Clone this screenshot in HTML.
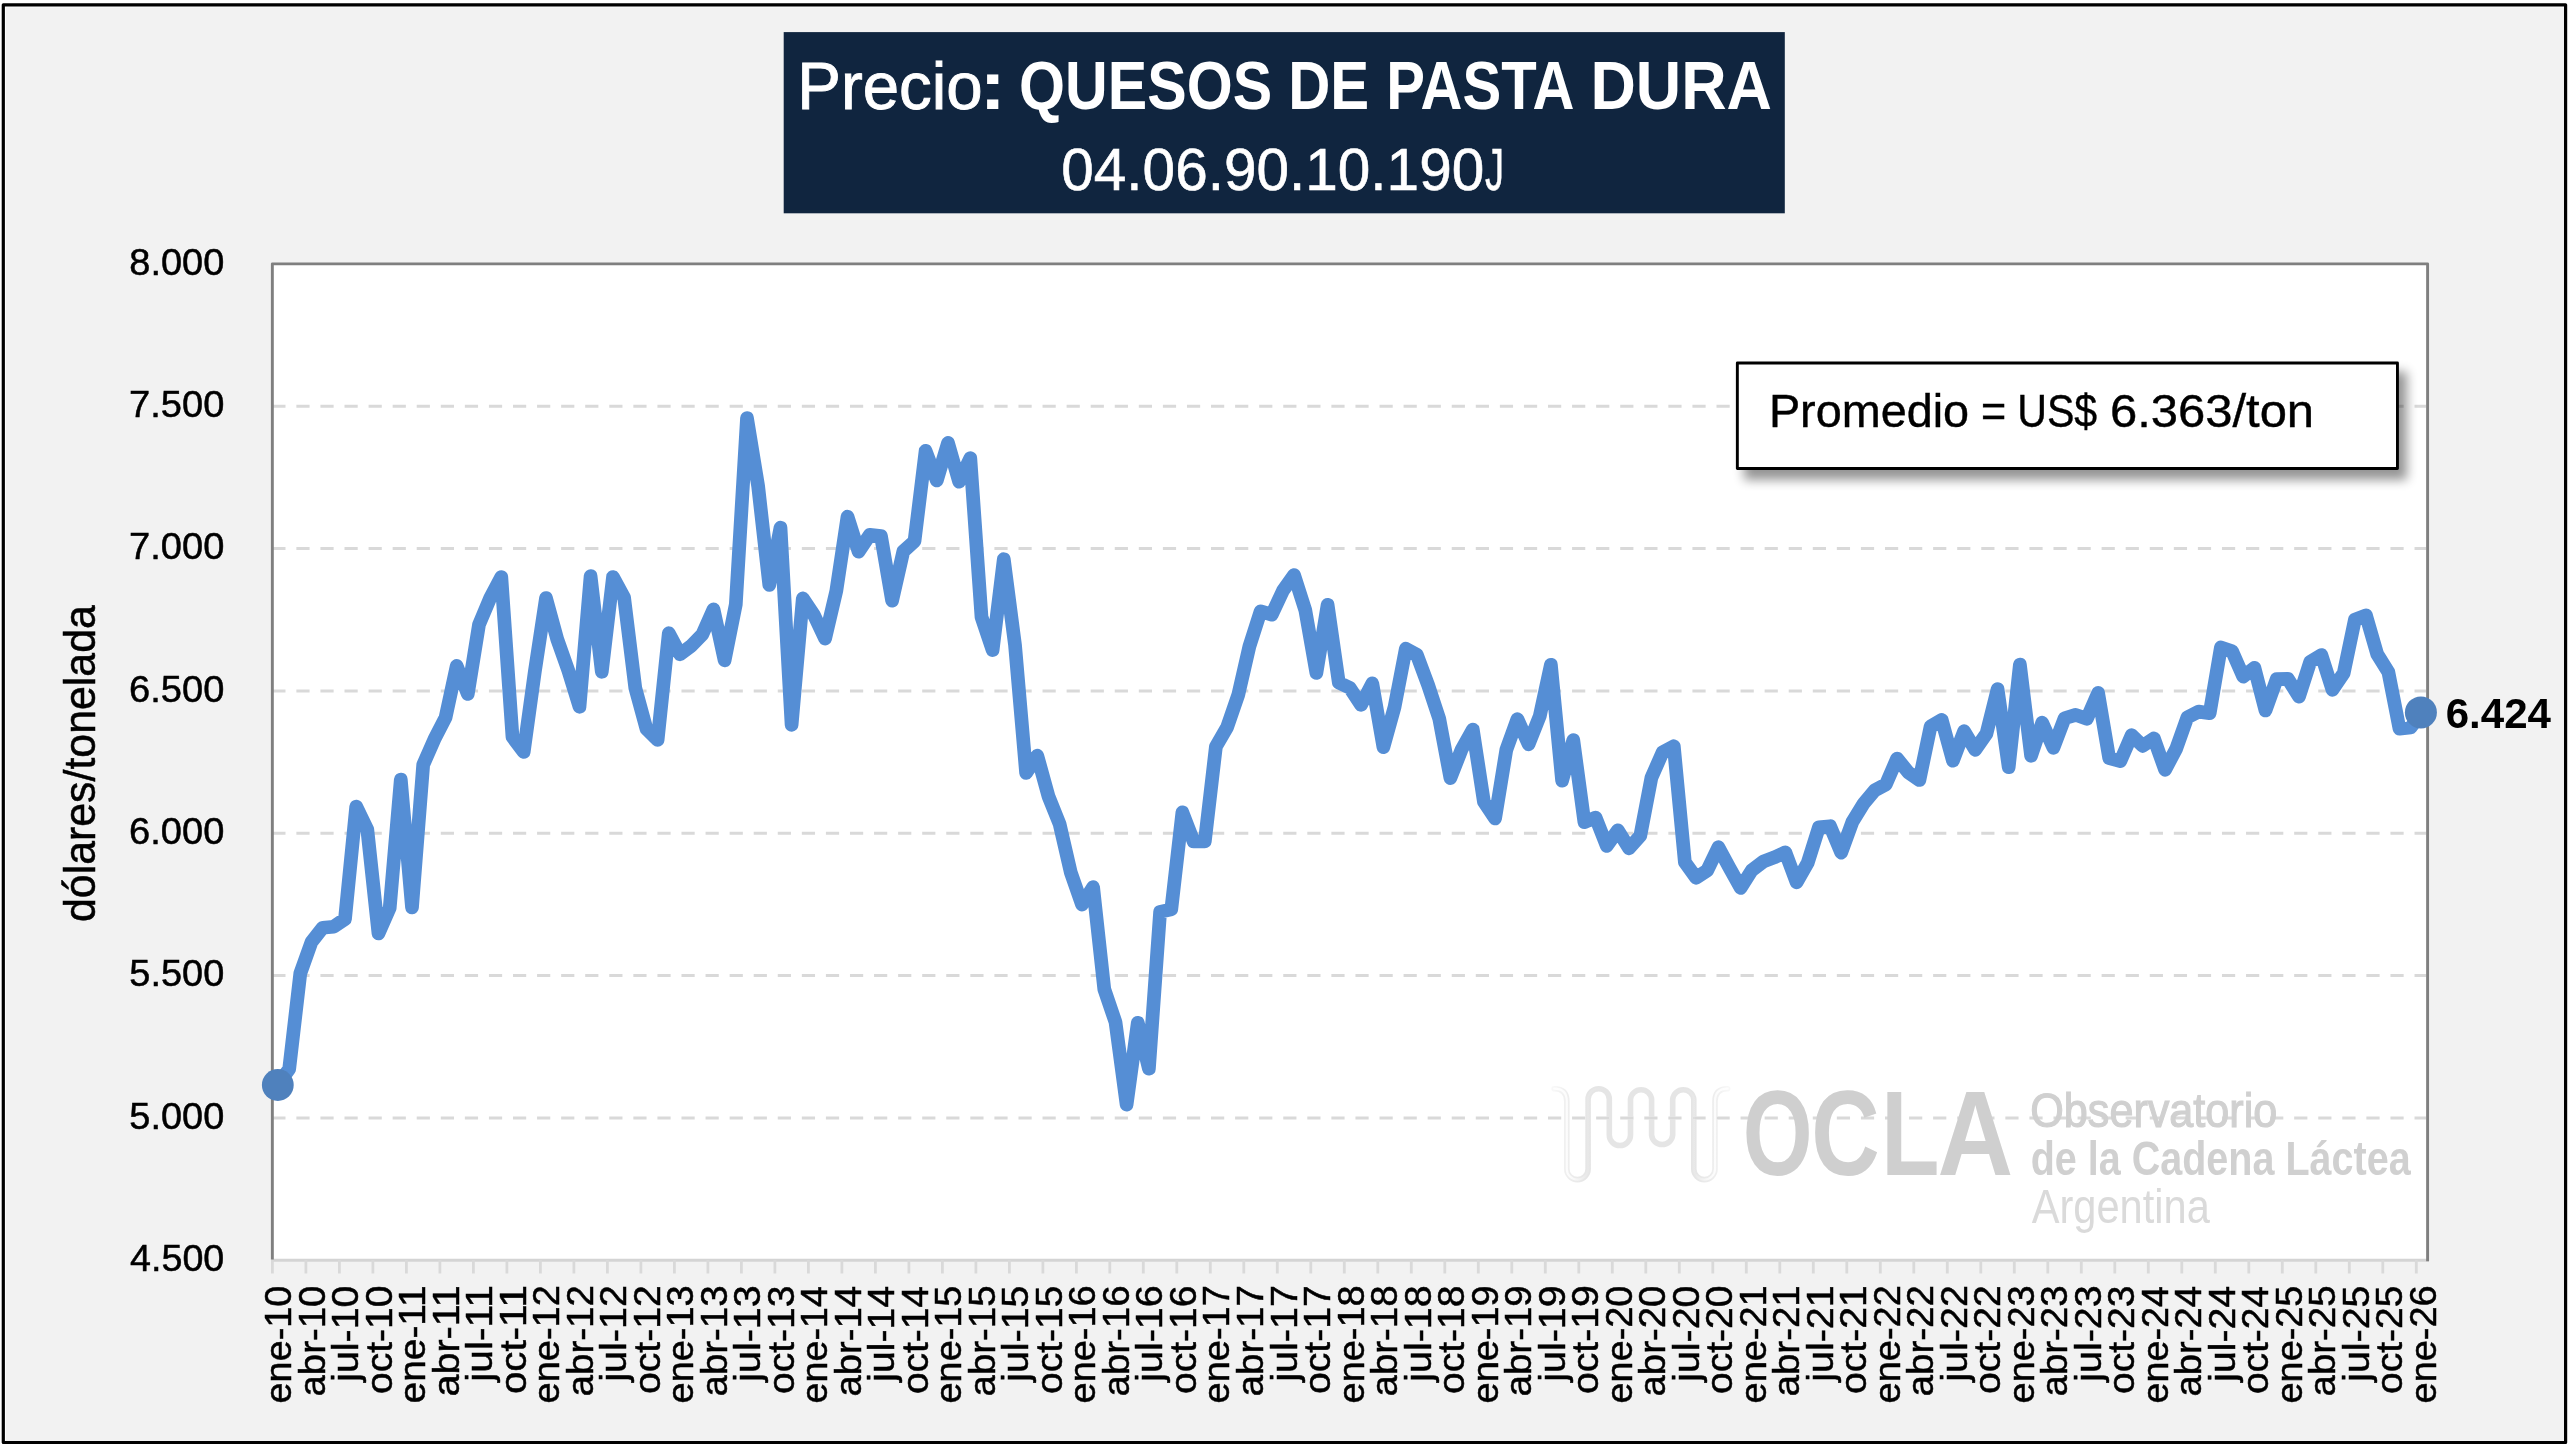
<!DOCTYPE html>
<html lang="es"><head><meta charset="utf-8"><title>Precio: QUESOS DE PASTA DURA</title>
<style>html,body{margin:0;padding:0;background:#fff;}body{width:2575px;height:1448px;overflow:hidden;}svg{display:block;}text{font-family:"Liberation Sans", sans-serif;}</style></head><body>
<svg width="2575" height="1448" viewBox="0 0 2575 1448">
<defs><filter id="sh" x="-10%" y="-30%" width="125%" height="180%"><feGaussianBlur in="SourceAlpha" stdDeviation="5.5"/><feOffset dx="7.5" dy="9.5"/><feComponentTransfer><feFuncA type="linear" slope="0.42"/></feComponentTransfer></filter><linearGradient id="sq" gradientUnits="userSpaceOnUse" x1="1553" x2="1729" y1="0" y2="0"><stop offset="0" stop-color="#f8f8f8"/><stop offset="0.08" stop-color="#eeeeee"/><stop offset="0.2" stop-color="#e5e5e5"/><stop offset="0.8" stop-color="#e5e5e5"/><stop offset="0.92" stop-color="#eeeeee"/><stop offset="1" stop-color="#f8f8f8"/></linearGradient><linearGradient id="sqc" gradientUnits="userSpaceOnUse" x1="1553" x2="1729" y1="0" y2="0"><stop offset="0" stop-color="#fff" stop-opacity="0.9"/><stop offset="0.1" stop-color="#fff" stop-opacity="0.8"/><stop offset="0.19" stop-color="#fff" stop-opacity="0.12"/><stop offset="0.3" stop-color="#fff" stop-opacity="0"/><stop offset="0.7" stop-color="#fff" stop-opacity="0"/><stop offset="0.81" stop-color="#fff" stop-opacity="0.12"/><stop offset="0.9" stop-color="#fff" stop-opacity="0.8"/><stop offset="1" stop-color="#fff" stop-opacity="0.9"/></linearGradient></defs>
<rect x="0" y="0" width="2575" height="1448" fill="#ffffff"/>
<rect x="5.8" y="7.4" width="2559.2" height="1434.6" fill="#f2f2f2"/>
<rect x="3.3" y="4.8" width="2562.3" height="1437.7" fill="none" stroke="#000000" stroke-width="3.2" stroke-linejoin="round"/>
<rect x="783.7" y="32.1" width="1001.1" height="181.2" fill="#10253f"/>
<rect x="272.35" y="263.85" width="2155.25" height="996.3" fill="#ffffff"/>
<line x1="272.3" x2="2426" y1="406.2" y2="406.2" stroke="#d9d9d9" stroke-width="3" stroke-dasharray="13.2 10.87"/>
<line x1="272.3" x2="2426" y1="548.5" y2="548.5" stroke="#d9d9d9" stroke-width="3" stroke-dasharray="13.2 10.87"/>
<line x1="272.3" x2="2426" y1="690.9" y2="690.9" stroke="#d9d9d9" stroke-width="3" stroke-dasharray="13.2 10.87"/>
<line x1="272.3" x2="2426" y1="833.2" y2="833.2" stroke="#d9d9d9" stroke-width="3" stroke-dasharray="13.2 10.87"/>
<line x1="272.3" x2="2426" y1="975.5" y2="975.5" stroke="#d9d9d9" stroke-width="3" stroke-dasharray="13.2 10.87"/>
<line x1="272.3" x2="2426" y1="1117.9" y2="1117.9" stroke="#d9d9d9" stroke-width="3" stroke-dasharray="13.2 10.87"/>
<line x1="271.4" x2="2428.9" y1="1260.2" y2="1260.2" stroke="#d4d4d4" stroke-width="2.9"/>
<path d="M272.4 1260V1273.4M305.9 1260V1273.4M339.4 1260V1273.4M372.9 1260V1273.4M406.4 1260V1273.4M439.9 1260V1273.4M473.4 1260V1273.4M506.9 1260V1273.4M540.4 1260V1273.4M573.9 1260V1273.4M607.4 1260V1273.4M640.9 1260V1273.4M674.4 1260V1273.4M707.9 1260V1273.4M741.4 1260V1273.4M774.9 1260V1273.4M808.4 1260V1273.4M841.9 1260V1273.4M875.4 1260V1273.4M908.9 1260V1273.4M942.4 1260V1273.4M975.9 1260V1273.4M1009.4 1260V1273.4M1042.9 1260V1273.4M1076.4 1260V1273.4M1109.8 1260V1273.4M1143.3 1260V1273.4M1176.8 1260V1273.4M1210.3 1260V1273.4M1243.8 1260V1273.4M1277.3 1260V1273.4M1310.8 1260V1273.4M1344.3 1260V1273.4M1377.8 1260V1273.4M1411.3 1260V1273.4M1444.8 1260V1273.4M1478.3 1260V1273.4M1511.8 1260V1273.4M1545.3 1260V1273.4M1578.8 1260V1273.4M1612.3 1260V1273.4M1645.8 1260V1273.4M1679.3 1260V1273.4M1712.8 1260V1273.4M1746.3 1260V1273.4M1779.8 1260V1273.4M1813.3 1260V1273.4M1846.8 1260V1273.4M1880.3 1260V1273.4M1913.8 1260V1273.4M1947.3 1260V1273.4M1980.8 1260V1273.4M2014.3 1260V1273.4M2047.8 1260V1273.4M2081.3 1260V1273.4M2114.8 1260V1273.4M2148.3 1260V1273.4M2181.8 1260V1273.4M2215.3 1260V1273.4M2248.8 1260V1273.4M2282.3 1260V1273.4M2315.8 1260V1273.4M2349.3 1260V1273.4M2382.8 1260V1273.4M2416.3 1260V1273.4" stroke="#d9d9d9" stroke-width="2.8" fill="none"/>
<path d="M272.35 1259.4V263.85H2427.6V1261.2" fill="none" stroke="#7f7f7f" stroke-width="2.9" stroke-linejoin="round"/>
<g id="logo">
<path d="M1554.2 1088.7 Q1566.8 1088.7 1566.8 1101.3 V1169.0 A10.6 10.6 0 0 0 1588.1 1169.0 V1099.3 A10.6 10.6 0 0 1 1609.3 1099.3 V1135.0 A10.6 10.6 0 0 0 1630.5 1135.0 V1099.3 A10.6 10.6 0 0 1 1651.6 1099.3 V1135.0 A10.6 10.6 0 0 0 1672.7 1135.0 V1099.3 A10.6 10.6 0 0 1 1693.8 1099.3 V1169.0 A10.6 10.6 0 0 0 1715.0 1169.0 V1101.3 Q1715.0 1088.7 1727.6 1088.7" fill="none" stroke="url(#sq)" stroke-width="5.6" stroke-linecap="round" stroke-linejoin="round" style="mix-blend-mode:darken"/>
<path d="M1554.2 1088.7 Q1566.8 1088.7 1566.8 1101.3 V1169.0 A10.6 10.6 0 0 0 1588.1 1169.0 V1099.3 A10.6 10.6 0 0 1 1609.3 1099.3 V1135.0 A10.6 10.6 0 0 0 1630.5 1135.0 V1099.3 A10.6 10.6 0 0 1 1651.6 1099.3 V1135.0 A10.6 10.6 0 0 0 1672.7 1135.0 V1099.3 A10.6 10.6 0 0 1 1693.8 1099.3 V1169.0 A10.6 10.6 0 0 0 1715.0 1169.0 V1101.3 Q1715.0 1088.7 1727.6 1088.7" fill="none" stroke="url(#sqc)" stroke-width="2.2" stroke-linecap="round" stroke-linejoin="round"/>
<text y="1175.20" fill="#cfcfcf" xml:space="preserve"><tspan x="1742.65" font-size="120.00" font-weight="700" textLength="69.87" lengthAdjust="spacingAndGlyphs">O</tspan><tspan x="1811.15" font-size="120.00" font-weight="700" textLength="68.44" lengthAdjust="spacingAndGlyphs">C</tspan><tspan x="1881.01" font-size="120.00" font-weight="700" textLength="58.52" lengthAdjust="spacingAndGlyphs">L</tspan><tspan x="1937.38" font-size="120.00" font-weight="700" textLength="75.68" lengthAdjust="spacingAndGlyphs">A</tspan></text>
<text x="2030.28" y="1126.50" font-size="48.00" fill="#d0d0d0" textLength="247.04" lengthAdjust="spacingAndGlyphs" xml:space="preserve" stroke="#d0d0d0" stroke-width="1.2">Observatorio</text>
<text x="2030.65" y="1174.60" font-size="48.00" font-weight="700" fill="#d0d0d0" textLength="380.06" lengthAdjust="spacingAndGlyphs" xml:space="preserve">de la Cadena Láctea</text>
<text x="2031.69" y="1222.50" font-size="47.50" fill="#dadada" textLength="178.19" lengthAdjust="spacingAndGlyphs" xml:space="preserve">Argentina</text>
</g>
<polyline points="278.0,1084.6 289.2,1068.9 300.3,973.4 311.5,942.0 322.7,927.7 333.8,926.7 345.0,919.0 356.2,806.6 367.3,829.6 378.5,933.5 389.7,908.1 400.8,779.5 412.0,907.4 423.2,764.8 434.3,739.4 445.5,717.7 456.7,665.9 467.8,694.0 479.0,624.6 490.2,598.0 501.3,577.0 512.5,737.0 523.7,752.0 534.8,671.7 546.0,598.0 557.2,639.1 568.3,670.5 579.5,706.8 590.6,576.2 601.8,671.8 613.0,577.0 624.1,597.5 635.3,688.0 646.5,729.0 657.6,740.0 668.8,633.2 680.0,654.3 691.1,646.0 702.3,634.5 713.5,609.3 724.6,660.3 735.8,604.3 747.0,418.1 758.1,485.8 769.3,584.9 780.5,527.6 791.6,724.9 802.8,598.4 814.0,615.1 825.1,638.6 836.3,591.0 847.5,516.7 858.6,551.6 869.8,534.9 881.0,536.1 892.1,600.7 903.3,551.4 914.5,541.2 925.6,450.9 936.8,480.5 948.0,442.9 959.1,481.7 970.3,458.2 981.5,617.0 992.6,650.1 1003.8,559.2 1015.0,644.8 1026.1,772.9 1037.3,755.7 1048.5,796.4 1059.6,824.0 1070.8,872.5 1082.0,904.6 1093.1,887.1 1104.3,989.3 1115.5,1022.1 1126.6,1104.6 1137.8,1022.8 1148.9,1068.7 1160.1,911.9 1171.3,909.3 1182.4,812.4 1193.6,841.5 1204.8,841.5 1215.9,746.6 1227.1,727.3 1238.3,694.7 1249.4,646.4 1260.6,611.3 1271.8,614.7 1282.9,590.8 1294.1,575.0 1305.3,610.1 1316.4,673.0 1327.6,604.8 1338.8,682.6 1349.9,687.9 1361.1,704.9 1372.3,683.3 1383.4,747.2 1394.6,706.8 1405.8,648.7 1416.9,654.8 1428.1,685.0 1439.3,718.9 1450.4,778.1 1461.6,749.5 1472.8,729.5 1483.9,801.8 1495.1,818.5 1506.3,749.9 1517.4,719.1 1528.6,744.3 1539.8,716.0 1550.9,664.8 1562.1,780.6 1573.3,740.2 1584.4,822.2 1595.6,817.5 1606.8,845.9 1617.9,830.3 1629.1,848.3 1640.3,835.7 1651.4,777.7 1662.6,752.3 1673.8,746.2 1684.9,862.3 1696.1,877.8 1707.2,870.5 1718.4,847.2 1729.6,868.0 1740.7,887.9 1751.9,870.2 1763.1,861.7 1774.2,857.4 1785.4,852.3 1796.6,882.3 1807.7,862.9 1818.9,827.4 1830.1,826.2 1841.2,852.6 1852.4,821.8 1863.6,803.7 1874.7,790.4 1885.9,784.4 1897.1,758.5 1908.2,772.3 1919.4,780.0 1930.6,726.4 1941.7,719.8 1952.9,760.7 1964.1,731.2 1975.2,749.8 1986.4,733.8 1997.6,689.2 2008.7,767.2 2019.9,664.6 2031.1,755.8 2042.2,722.7 2053.4,747.8 2064.6,718.3 2075.7,714.9 2086.9,718.8 2098.1,692.9 2109.2,758.2 2120.4,761.1 2131.6,735.2 2142.7,745.9 2153.9,738.4 2165.1,769.8 2176.2,748.8 2187.4,717.3 2198.6,711.6 2209.7,713.2 2220.9,647.4 2232.1,651.2 2243.2,676.6 2254.4,667.8 2265.5,710.5 2276.7,679.1 2287.9,678.8 2299.0,696.7 2310.2,661.9 2321.4,655.0 2332.5,689.8 2343.7,673.1 2354.9,619.6 2366.0,615.3 2377.2,654.1 2388.4,672.2 2399.5,728.7 2410.7,727.5 2421.9,712.5" fill="none" stroke="#558ed5" stroke-width="13.7" stroke-linejoin="round" stroke-linecap="round"/>
<circle cx="277.8" cy="1085.0" r="15.9" fill="#4f81bd"/>
<circle cx="2420.9" cy="712.4" r="16.0" fill="#4f81bd"/>
<rect x="1735.9" y="361.6" width="663" height="108.3" fill="#000" filter="url(#sh)"/>
<rect x="1737.35" y="363.05" width="660.1" height="105.4" fill="#ffffff" stroke="#000000" stroke-width="2.9" stroke-linejoin="round"/>
<text y="427.10" fill="#000" xml:space="preserve" stroke="#000" stroke-width="0.4"><tspan x="1768.92" font-size="46.80" font-weight="400" textLength="200.23" lengthAdjust="spacingAndGlyphs">Promedio</tspan> <tspan x="1980.92" font-size="46.80" font-weight="400" textLength="25.20" lengthAdjust="spacingAndGlyphs">=</tspan> <tspan x="2017.21" font-size="46.80" font-weight="400" textLength="80.00" lengthAdjust="spacingAndGlyphs">US$</tspan> <tspan x="2109.91" font-size="46.80" font-weight="400" textLength="204.19" lengthAdjust="spacingAndGlyphs">6.363/ton</tspan></text>
<text y="109.20" fill="#fff" xml:space="preserve"><tspan x="797.33" font-size="67.00" font-weight="400" stroke="#fff" stroke-width="0.9" textLength="185.39" lengthAdjust="spacingAndGlyphs">Precio</tspan><tspan x="979.51" font-size="67.80" font-weight="700" textLength="26.36" lengthAdjust="spacingAndGlyphs">:</tspan> <tspan x="1019.00" font-size="67.80" font-weight="700" textLength="253.11" lengthAdjust="spacingAndGlyphs">QUESOS</tspan> <tspan x="1288.23" font-size="67.80" font-weight="700" textLength="80.93" lengthAdjust="spacingAndGlyphs">DE</tspan> <tspan x="1386.14" font-size="67.80" font-weight="700" textLength="188.21" lengthAdjust="spacingAndGlyphs">PASTA</tspan> <tspan x="1590.42" font-size="67.80" font-weight="700" textLength="181.58" lengthAdjust="spacingAndGlyphs">DURA</tspan></text>
<text y="190.20" fill="#fff" xml:space="preserve" stroke="#fff" stroke-width="0.6"><tspan x="1061.27" font-size="59.60" font-weight="400" textLength="422.97" lengthAdjust="spacingAndGlyphs">04.06.90.10.190</tspan><tspan x="1484.94" font-size="59.60" font-weight="400" textLength="18.98" lengthAdjust="spacingAndGlyphs">J</tspan></text>
<text x="130.02" y="1270.85" font-size="37.40" fill="#000" textLength="94.30" lengthAdjust="spacingAndGlyphs" xml:space="preserve" stroke="#000" stroke-width="0.5">4.500</text>
<text x="129.38" y="1128.51" font-size="37.40" fill="#000" textLength="94.95" lengthAdjust="spacingAndGlyphs" xml:space="preserve" stroke="#000" stroke-width="0.5">5.000</text>
<text x="129.38" y="986.17" font-size="37.40" fill="#000" textLength="94.95" lengthAdjust="spacingAndGlyphs" xml:space="preserve" stroke="#000" stroke-width="0.5">5.500</text>
<text x="128.99" y="843.84" font-size="37.40" fill="#000" textLength="95.35" lengthAdjust="spacingAndGlyphs" xml:space="preserve" stroke="#000" stroke-width="0.5">6.000</text>
<text x="128.99" y="701.50" font-size="37.40" fill="#000" textLength="95.35" lengthAdjust="spacingAndGlyphs" xml:space="preserve" stroke="#000" stroke-width="0.5">6.500</text>
<text x="128.99" y="559.17" font-size="37.40" fill="#000" textLength="95.35" lengthAdjust="spacingAndGlyphs" xml:space="preserve" stroke="#000" stroke-width="0.5">7.000</text>
<text x="128.99" y="416.83" font-size="37.40" fill="#000" textLength="95.35" lengthAdjust="spacingAndGlyphs" xml:space="preserve" stroke="#000" stroke-width="0.5">7.500</text>
<text x="129.25" y="274.50" font-size="37.40" fill="#000" textLength="95.08" lengthAdjust="spacingAndGlyphs" xml:space="preserve" stroke="#000" stroke-width="0.5">8.000</text>
<text transform="translate(94.9,920.2) rotate(-90)" x="-1.81" y="0" font-size="44.5" fill="#000" stroke="#000" stroke-width="0.5" textLength="316.85" lengthAdjust="spacingAndGlyphs">dólares/tonelada</text>
<text x="2445.73" y="728.00" font-size="43.00" font-weight="700" fill="#000" textLength="105.27" lengthAdjust="spacingAndGlyphs" xml:space="preserve">6.424</text>
<text transform="translate(291.1,1401.8) rotate(-90)" x="-1.64" y="0" font-size="37.4" fill="#000" stroke="#000" stroke-width="0.5" textLength="117.74" lengthAdjust="spacingAndGlyphs">ene-10</text>
<text transform="translate(324.6,1394.8) rotate(-90)" x="-1.67" y="0" font-size="37.4" fill="#000" stroke="#000" stroke-width="0.5" textLength="110.82" lengthAdjust="spacingAndGlyphs">abr-10</text>
<text transform="translate(358.1,1382.7) rotate(-90)" x="0.92" y="0" font-size="37.4" fill="#000" stroke="#000" stroke-width="0.5" textLength="96.17" lengthAdjust="spacingAndGlyphs">jul-10</text>
<text transform="translate(391.6,1392.5) rotate(-90)" x="-1.57" y="0" font-size="37.4" fill="#000" stroke="#000" stroke-width="0.5" textLength="108.40" lengthAdjust="spacingAndGlyphs">oct-10</text>
<text transform="translate(425.1,1401.8) rotate(-90)" x="-1.69" y="0" font-size="37.4" fill="#000" stroke="#000" stroke-width="0.5" textLength="118.19" lengthAdjust="spacingAndGlyphs">ene-11</text>
<text transform="translate(458.7,1394.8) rotate(-90)" x="-1.72" y="0" font-size="37.4" fill="#000" stroke="#000" stroke-width="0.5" textLength="111.28" lengthAdjust="spacingAndGlyphs">abr-11</text>
<text transform="translate(492.2,1382.7) rotate(-90)" x="0.95" y="0" font-size="37.4" fill="#000" stroke="#000" stroke-width="0.5" textLength="96.57" lengthAdjust="spacingAndGlyphs">jul-11</text>
<text transform="translate(525.7,1392.5) rotate(-90)" x="-1.62" y="0" font-size="37.4" fill="#000" stroke="#000" stroke-width="0.5" textLength="108.88" lengthAdjust="spacingAndGlyphs">oct-11</text>
<text transform="translate(559.2,1401.8) rotate(-90)" x="-1.65" y="0" font-size="37.4" fill="#000" stroke="#000" stroke-width="0.5" textLength="118.26" lengthAdjust="spacingAndGlyphs">ene-12</text>
<text transform="translate(592.7,1394.8) rotate(-90)" x="-1.67" y="0" font-size="37.4" fill="#000" stroke="#000" stroke-width="0.5" textLength="111.35" lengthAdjust="spacingAndGlyphs">abr-12</text>
<text transform="translate(626.2,1382.7) rotate(-90)" x="0.93" y="0" font-size="37.4" fill="#000" stroke="#000" stroke-width="0.5" textLength="96.70" lengthAdjust="spacingAndGlyphs">jul-12</text>
<text transform="translate(659.7,1392.5) rotate(-90)" x="-1.57" y="0" font-size="37.4" fill="#000" stroke="#000" stroke-width="0.5" textLength="108.94" lengthAdjust="spacingAndGlyphs">oct-12</text>
<text transform="translate(693.2,1401.8) rotate(-90)" x="-1.65" y="0" font-size="37.4" fill="#000" stroke="#000" stroke-width="0.5" textLength="118.00" lengthAdjust="spacingAndGlyphs">ene-13</text>
<text transform="translate(726.8,1394.8) rotate(-90)" x="-1.67" y="0" font-size="37.4" fill="#000" stroke="#000" stroke-width="0.5" textLength="111.08" lengthAdjust="spacingAndGlyphs">abr-13</text>
<text transform="translate(760.3,1382.7) rotate(-90)" x="0.92" y="0" font-size="37.4" fill="#000" stroke="#000" stroke-width="0.5" textLength="96.43" lengthAdjust="spacingAndGlyphs">jul-13</text>
<text transform="translate(793.8,1392.5) rotate(-90)" x="-1.57" y="0" font-size="37.4" fill="#000" stroke="#000" stroke-width="0.5" textLength="108.67" lengthAdjust="spacingAndGlyphs">oct-13</text>
<text transform="translate(827.3,1401.8) rotate(-90)" x="-1.64" y="0" font-size="37.4" fill="#000" stroke="#000" stroke-width="0.5" textLength="117.35" lengthAdjust="spacingAndGlyphs">ene-14</text>
<text transform="translate(860.8,1394.8) rotate(-90)" x="-1.66" y="0" font-size="37.4" fill="#000" stroke="#000" stroke-width="0.5" textLength="110.42" lengthAdjust="spacingAndGlyphs">abr-14</text>
<text transform="translate(894.3,1382.7) rotate(-90)" x="0.92" y="0" font-size="37.4" fill="#000" stroke="#000" stroke-width="0.5" textLength="95.77" lengthAdjust="spacingAndGlyphs">jul-14</text>
<text transform="translate(927.8,1392.5) rotate(-90)" x="-1.56" y="0" font-size="37.4" fill="#000" stroke="#000" stroke-width="0.5" textLength="108.00" lengthAdjust="spacingAndGlyphs">oct-14</text>
<text transform="translate(961.3,1401.8) rotate(-90)" x="-1.65" y="0" font-size="37.4" fill="#000" stroke="#000" stroke-width="0.5" textLength="117.87" lengthAdjust="spacingAndGlyphs">ene-15</text>
<text transform="translate(994.9,1394.8) rotate(-90)" x="-1.67" y="0" font-size="37.4" fill="#000" stroke="#000" stroke-width="0.5" textLength="110.95" lengthAdjust="spacingAndGlyphs">abr-15</text>
<text transform="translate(1028.4,1382.7) rotate(-90)" x="0.92" y="0" font-size="37.4" fill="#000" stroke="#000" stroke-width="0.5" textLength="96.30" lengthAdjust="spacingAndGlyphs">jul-15</text>
<text transform="translate(1061.9,1392.5) rotate(-90)" x="-1.57" y="0" font-size="37.4" fill="#000" stroke="#000" stroke-width="0.5" textLength="108.54" lengthAdjust="spacingAndGlyphs">oct-15</text>
<text transform="translate(1095.4,1401.8) rotate(-90)" x="-1.65" y="0" font-size="37.4" fill="#000" stroke="#000" stroke-width="0.5" textLength="118.00" lengthAdjust="spacingAndGlyphs">ene-16</text>
<text transform="translate(1128.9,1394.8) rotate(-90)" x="-1.67" y="0" font-size="37.4" fill="#000" stroke="#000" stroke-width="0.5" textLength="111.08" lengthAdjust="spacingAndGlyphs">abr-16</text>
<text transform="translate(1162.4,1382.7) rotate(-90)" x="0.92" y="0" font-size="37.4" fill="#000" stroke="#000" stroke-width="0.5" textLength="96.43" lengthAdjust="spacingAndGlyphs">jul-16</text>
<text transform="translate(1195.9,1392.5) rotate(-90)" x="-1.57" y="0" font-size="37.4" fill="#000" stroke="#000" stroke-width="0.5" textLength="108.67" lengthAdjust="spacingAndGlyphs">oct-16</text>
<text transform="translate(1229.4,1401.8) rotate(-90)" x="-1.65" y="0" font-size="37.4" fill="#000" stroke="#000" stroke-width="0.5" textLength="118.26" lengthAdjust="spacingAndGlyphs">ene-17</text>
<text transform="translate(1262.9,1394.8) rotate(-90)" x="-1.67" y="0" font-size="37.4" fill="#000" stroke="#000" stroke-width="0.5" textLength="111.35" lengthAdjust="spacingAndGlyphs">abr-17</text>
<text transform="translate(1296.5,1382.7) rotate(-90)" x="0.93" y="0" font-size="37.4" fill="#000" stroke="#000" stroke-width="0.5" textLength="96.70" lengthAdjust="spacingAndGlyphs">jul-17</text>
<text transform="translate(1330.0,1392.5) rotate(-90)" x="-1.57" y="0" font-size="37.4" fill="#000" stroke="#000" stroke-width="0.5" textLength="108.94" lengthAdjust="spacingAndGlyphs">oct-17</text>
<text transform="translate(1363.5,1401.8) rotate(-90)" x="-1.65" y="0" font-size="37.4" fill="#000" stroke="#000" stroke-width="0.5" textLength="118.00" lengthAdjust="spacingAndGlyphs">ene-18</text>
<text transform="translate(1397.0,1394.8) rotate(-90)" x="-1.67" y="0" font-size="37.4" fill="#000" stroke="#000" stroke-width="0.5" textLength="111.08" lengthAdjust="spacingAndGlyphs">abr-18</text>
<text transform="translate(1430.5,1382.7) rotate(-90)" x="0.92" y="0" font-size="37.4" fill="#000" stroke="#000" stroke-width="0.5" textLength="96.43" lengthAdjust="spacingAndGlyphs">jul-18</text>
<text transform="translate(1464.0,1392.5) rotate(-90)" x="-1.57" y="0" font-size="37.4" fill="#000" stroke="#000" stroke-width="0.5" textLength="108.67" lengthAdjust="spacingAndGlyphs">oct-18</text>
<text transform="translate(1497.5,1401.8) rotate(-90)" x="-1.65" y="0" font-size="37.4" fill="#000" stroke="#000" stroke-width="0.5" textLength="118.13" lengthAdjust="spacingAndGlyphs">ene-19</text>
<text transform="translate(1531.0,1394.8) rotate(-90)" x="-1.67" y="0" font-size="37.4" fill="#000" stroke="#000" stroke-width="0.5" textLength="111.21" lengthAdjust="spacingAndGlyphs">abr-19</text>
<text transform="translate(1564.6,1382.7) rotate(-90)" x="0.92" y="0" font-size="37.4" fill="#000" stroke="#000" stroke-width="0.5" textLength="96.56" lengthAdjust="spacingAndGlyphs">jul-19</text>
<text transform="translate(1598.1,1392.5) rotate(-90)" x="-1.57" y="0" font-size="37.4" fill="#000" stroke="#000" stroke-width="0.5" textLength="108.81" lengthAdjust="spacingAndGlyphs">oct-19</text>
<text transform="translate(1631.6,1401.8) rotate(-90)" x="-1.64" y="0" font-size="37.4" fill="#000" stroke="#000" stroke-width="0.5" textLength="117.74" lengthAdjust="spacingAndGlyphs">ene-20</text>
<text transform="translate(1665.1,1394.8) rotate(-90)" x="-1.67" y="0" font-size="37.4" fill="#000" stroke="#000" stroke-width="0.5" textLength="110.82" lengthAdjust="spacingAndGlyphs">abr-20</text>
<text transform="translate(1698.6,1382.7) rotate(-90)" x="0.92" y="0" font-size="37.4" fill="#000" stroke="#000" stroke-width="0.5" textLength="96.17" lengthAdjust="spacingAndGlyphs">jul-20</text>
<text transform="translate(1732.1,1392.5) rotate(-90)" x="-1.57" y="0" font-size="37.4" fill="#000" stroke="#000" stroke-width="0.5" textLength="108.40" lengthAdjust="spacingAndGlyphs">oct-20</text>
<text transform="translate(1765.6,1401.8) rotate(-90)" x="-1.65" y="0" font-size="37.4" fill="#000" stroke="#000" stroke-width="0.5" textLength="118.13" lengthAdjust="spacingAndGlyphs">ene-21</text>
<text transform="translate(1799.1,1394.8) rotate(-90)" x="-1.67" y="0" font-size="37.4" fill="#000" stroke="#000" stroke-width="0.5" textLength="111.21" lengthAdjust="spacingAndGlyphs">abr-21</text>
<text transform="translate(1832.7,1382.7) rotate(-90)" x="0.92" y="0" font-size="37.4" fill="#000" stroke="#000" stroke-width="0.5" textLength="96.56" lengthAdjust="spacingAndGlyphs">jul-21</text>
<text transform="translate(1866.2,1392.5) rotate(-90)" x="-1.57" y="0" font-size="37.4" fill="#000" stroke="#000" stroke-width="0.5" textLength="108.81" lengthAdjust="spacingAndGlyphs">oct-21</text>
<text transform="translate(1899.7,1401.8) rotate(-90)" x="-1.65" y="0" font-size="37.4" fill="#000" stroke="#000" stroke-width="0.5" textLength="118.26" lengthAdjust="spacingAndGlyphs">ene-22</text>
<text transform="translate(1933.2,1394.8) rotate(-90)" x="-1.67" y="0" font-size="37.4" fill="#000" stroke="#000" stroke-width="0.5" textLength="111.35" lengthAdjust="spacingAndGlyphs">abr-22</text>
<text transform="translate(1966.7,1382.7) rotate(-90)" x="0.93" y="0" font-size="37.4" fill="#000" stroke="#000" stroke-width="0.5" textLength="96.70" lengthAdjust="spacingAndGlyphs">jul-22</text>
<text transform="translate(2000.2,1392.5) rotate(-90)" x="-1.57" y="0" font-size="37.4" fill="#000" stroke="#000" stroke-width="0.5" textLength="108.94" lengthAdjust="spacingAndGlyphs">oct-22</text>
<text transform="translate(2033.7,1401.8) rotate(-90)" x="-1.65" y="0" font-size="37.4" fill="#000" stroke="#000" stroke-width="0.5" textLength="118.00" lengthAdjust="spacingAndGlyphs">ene-23</text>
<text transform="translate(2067.2,1394.8) rotate(-90)" x="-1.67" y="0" font-size="37.4" fill="#000" stroke="#000" stroke-width="0.5" textLength="111.08" lengthAdjust="spacingAndGlyphs">abr-23</text>
<text transform="translate(2100.7,1382.7) rotate(-90)" x="0.92" y="0" font-size="37.4" fill="#000" stroke="#000" stroke-width="0.5" textLength="96.43" lengthAdjust="spacingAndGlyphs">jul-23</text>
<text transform="translate(2134.3,1392.5) rotate(-90)" x="-1.57" y="0" font-size="37.4" fill="#000" stroke="#000" stroke-width="0.5" textLength="108.67" lengthAdjust="spacingAndGlyphs">oct-23</text>
<text transform="translate(2167.8,1401.8) rotate(-90)" x="-1.64" y="0" font-size="37.4" fill="#000" stroke="#000" stroke-width="0.5" textLength="117.35" lengthAdjust="spacingAndGlyphs">ene-24</text>
<text transform="translate(2201.3,1394.8) rotate(-90)" x="-1.66" y="0" font-size="37.4" fill="#000" stroke="#000" stroke-width="0.5" textLength="110.42" lengthAdjust="spacingAndGlyphs">abr-24</text>
<text transform="translate(2234.8,1382.7) rotate(-90)" x="0.92" y="0" font-size="37.4" fill="#000" stroke="#000" stroke-width="0.5" textLength="95.77" lengthAdjust="spacingAndGlyphs">jul-24</text>
<text transform="translate(2268.3,1392.5) rotate(-90)" x="-1.56" y="0" font-size="37.4" fill="#000" stroke="#000" stroke-width="0.5" textLength="108.00" lengthAdjust="spacingAndGlyphs">oct-24</text>
<text transform="translate(2301.8,1401.8) rotate(-90)" x="-1.65" y="0" font-size="37.4" fill="#000" stroke="#000" stroke-width="0.5" textLength="117.87" lengthAdjust="spacingAndGlyphs">ene-25</text>
<text transform="translate(2335.3,1394.8) rotate(-90)" x="-1.67" y="0" font-size="37.4" fill="#000" stroke="#000" stroke-width="0.5" textLength="110.95" lengthAdjust="spacingAndGlyphs">abr-25</text>
<text transform="translate(2368.8,1382.7) rotate(-90)" x="0.92" y="0" font-size="37.4" fill="#000" stroke="#000" stroke-width="0.5" textLength="96.30" lengthAdjust="spacingAndGlyphs">jul-25</text>
<text transform="translate(2402.4,1392.5) rotate(-90)" x="-1.57" y="0" font-size="37.4" fill="#000" stroke="#000" stroke-width="0.5" textLength="108.54" lengthAdjust="spacingAndGlyphs">oct-25</text>
<text transform="translate(2435.9,1401.8) rotate(-90)" x="-1.65" y="0" font-size="37.4" fill="#000" stroke="#000" stroke-width="0.5" textLength="118.00" lengthAdjust="spacingAndGlyphs">ene-26</text>
</svg></body></html>
